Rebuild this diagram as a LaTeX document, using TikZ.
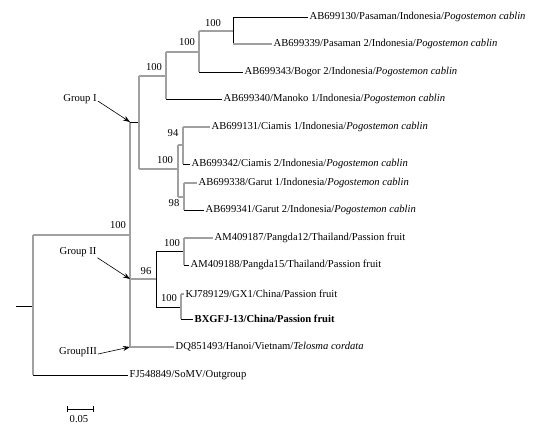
\documentclass[tikz,border=0pt]{standalone}
\usepackage{fontspec}
\setmainfont{Liberation Serif}
\usepackage{xcolor}
\usepackage{tikz}
\usetikzlibrary{arrows.meta, positioning}
\definecolor{branchgray}{RGB}{160,160,160}
\tikzset{
  graybr/.style={branchgray, line width=1.6pt},
  blackbr/.style={black, line width=0.9pt},
  taxon/.style={anchor=west, inner sep=1.5pt, font=\fontsize{10.6}{12}\selectfont},
  boot/.style={inner sep=0pt, font=\fontsize{10.6}{12}\selectfont},
  grouptag/.style={inner sep=1pt, font=\fontsize{10.6}{12}\selectfont},
  grouparrow/.style={-{Stealth[length=7pt,width=5pt]}, line width=0.6pt}
}
\begin{document}
\begin{tikzpicture}[x=1pt, y=-1pt]
    \useasboundingbox (0,0) rectangle (534,429);
    % root
    \coordinate (R0) at (16,306);
    \coordinate (Rm) at (33,306);
    \coordinate (Rt) at (33,235);
    \coordinate (Rb) at (33,375);
    \coordinate (OGe) at (128,375);
    % ingroup
    \coordinate (It) at (130,122);
    \coordinate (Ij) at (130,235);
    \coordinate (Ib) at (130,347);
    % group I
    \coordinate (Dj) at (139,122);
    \coordinate (Dt) at (139,76);
    \coordinate (Db) at (139,169);
    \coordinate (Ct) at (166,52);
    \coordinate (Cj) at (166,76);
    \coordinate (Cb) at (166,99);
    \coordinate (Bt) at (199,31);
    \coordinate (Bj) at (199,52);
    \coordinate (Bb) at (199,72);
    \coordinate (At) at (233,17);
    \coordinate (Aj) at (233,31);
    \coordinate (Ab) at (233,44);
    \coordinate (Ej) at (178,169);
    \coordinate (Et) at (178,145);
    \coordinate (Eb) at (178,197);
    \coordinate (Fj) at (183,145);
    \coordinate (Ft) at (183,127);
    \coordinate (Fb) at (183,164);
    \coordinate (Gj) at (184,197);
    \coordinate (Gt) at (184,183);
    \coordinate (Gb) at (184,210);
    % group II
    \coordinate (IIj) at (156,279);
    \coordinate (IIt) at (156,251);
    \coordinate (IIb) at (156,307);
    \coordinate (Hj) at (184,251);
    \coordinate (Ht) at (184,238);
    \coordinate (Hb) at (184,265);
    \coordinate (Kj) at (181,307);
    \coordinate (Kt) at (181,294);
    \coordinate (Kb) at (181,319);
    % leaf ends
    \coordinate (pas1e) at (308,17);
    \coordinate (pas2e) at (272,44);
    \coordinate (boge) at (243,72);
    \coordinate (mane) at (222,99);
    \coordinate (cia1e) at (210,127);
    \coordinate (cia2e) at (190,164);
    \coordinate (gar1e) at (197,183);
    \coordinate (gar2e) at (204,210);
    \coordinate (pan12e) at (213,238);
    \coordinate (pan15e) at (189,265);
    \coordinate (gx1e) at (184,294);
    \coordinate (bxe) at (193,319);
    \coordinate (dqe) at (174,347);

    % branches
    \draw[blackbr] (R0) -- (Rm);
    \draw[graybr] (Rt) -- (Rb);
    \draw[graybr] (Rt) -- (Ij);
    \draw[blackbr] (Rb) -- (OGe);
    \draw[graybr] (It) -- (Ib);
    \draw[blackbr] (It) -- (Dj);
    \draw[graybr] (Dt) -- (Db);
    \draw[graybr] (Dt) -- (Cj);
    \draw[graybr] (Ct) -- (Cb);
    \draw[graybr] (Ct) -- (Bj);
    \draw[graybr] (Bt) -- (Bb);
    \draw[graybr] (Bt) -- (Aj);
    \draw[blackbr] (At) -- (Ab);
    \draw[blackbr] (At) -- (pas1e);
    \draw[graybr] (Ab) -- (pas2e);
    \draw[blackbr] (Bb) -- (boge);
    \draw[blackbr] (Cb) -- (mane);
    \draw[graybr] (Db) -- (Ej);
    \draw[graybr] (Et) -- (Eb);
    \draw[graybr] (Et) -- (Fj);
    \draw[graybr] (Ft) -- (Fb);
    \draw[graybr] (Ft) -- (cia1e);
    \draw[blackbr] (Fb) -- (cia2e);
    \draw[graybr] (Eb) -- (Gj);
    \draw[graybr] (Gt) -- (Gb);
    \draw[graybr] (Gt) -- (gar1e);
    \draw[blackbr] (Gb) -- (gar2e);
    \draw[graybr] (Ib |- IIj) -- (IIj);
    \draw[blackbr] (IIt) -- (IIb);
    \draw[blackbr] (IIt) -- (Hj);
    \draw[graybr] (Ht) -- (Hb);
    \draw[graybr] (Ht) -- (pan12e);
    \draw[blackbr] (Hb) -- (pan15e);
    \draw[blackbr] (IIb) -- (Kj);
    \draw[graybr] (Kt) -- (Kb);
    \draw[graybr] (Kt) -- (gx1e);
    \draw[blackbr] (Kb) -- (bxe);
    \draw[graybr] (Ib) -- (dqe);

    % taxa
    \node[taxon] (pas1) at (pas1e) {AB699130/Pasaman/Indonesia/\textit{Pogostemon cablin}};
    \node[taxon] (pas2) at (pas2e) {AB699339/Pasaman 2/Indonesia/\textit{Pogostemon cablin}};
    \node[taxon] (bog) at (boge) {AB699343/Bogor 2/Indonesia/\textit{Pogostemon cablin}};
    \node[taxon] (man) at (mane) {AB699340/Manoko 1/Indonesia/\textit{Pogostemon cablin}};
    \node[taxon] (cia1) at (cia1e) {AB699131/Ciamis 1/Indonesia/\textit{Pogostemon cablin}};
    \node[taxon] (cia2) at (cia2e) {AB699342/Ciamis 2/Indonesia/\textit{Pogostemon cablin}};
    \node[taxon] (gar1) at (gar1e) {AB699338/Garut 1/Indonesia/\textit{Pogostemon cablin}};
    \node[taxon] (gar2) at (gar2e) {AB699341/Garut 2/Indonesia/\textit{Pogostemon cablin}};
    \node[taxon] (pan12) at (pan12e) {AM409187/Pangda12/Thailand/Passion fruit};
    \node[taxon] (pan15) at (pan15e) {AM409188/Pangda15/Thailand/Passion fruit};
    \node[taxon] (gx1) at (gx1e) {KJ789129/GX1/China/Passion fruit};
    \node[taxon] (bx) at (bxe) {\textbf{BXGFJ-13/China/Passion fruit}};
    \node[taxon] (dq) at (dqe) {DQ851493/Hanoi/Vietnam/\textit{Telosma cordata}};
    \node[taxon] (og) at (OGe) {FJ548849/SoMV/Outgroup};

    % bootstrap values
    \node[boot] (bA) at (213,23) {100};
    \node[boot] (bB) at (187,42) {100};
    \node[boot] (bC) at (154,67) {100};
    \node[boot] (bE) at (165,160) {100};
    \node[boot] (bF) at (173,133) {94};
    \node[boot] (bG) at (174,203) {98};
    \node[boot] (bI) at (118,225) {100};
    \node[boot] (bII) at (146,271) {96};
    \node[boot] (bH) at (172,243) {100};
    \node[boot] (bK) at (169,298) {100};

    % groups
    \node[grouptag] (gI) at (80,99) {Group I};
    \node[grouptag] (gII) at (78,252) {Group II};
    \node[grouptag] (gIII) at (78,352) {GroupIII};
    \draw[grouparrow] (gI.east) ++(0,2) -- (It);
    \draw[grouparrow] (gII.south east) -- (Ib |- IIj);
    \draw[grouparrow] (gIII.east) ++(0,2) -- (Ib);

    % scale bar
    \coordinate (sbl) at (67,409);
    \coordinate (sbr) at (93,409);
    \draw[blackbr] (sbl) -- (sbr);
    \draw[blackbr] (sbl) ++(0,-3) -- ++(0,6);
    \draw[blackbr] (sbr) ++(0,-3) -- ++(0,6);
    \node[boot] (sblab) at (79,419) {0.05};
\end{tikzpicture}
\end{document}
